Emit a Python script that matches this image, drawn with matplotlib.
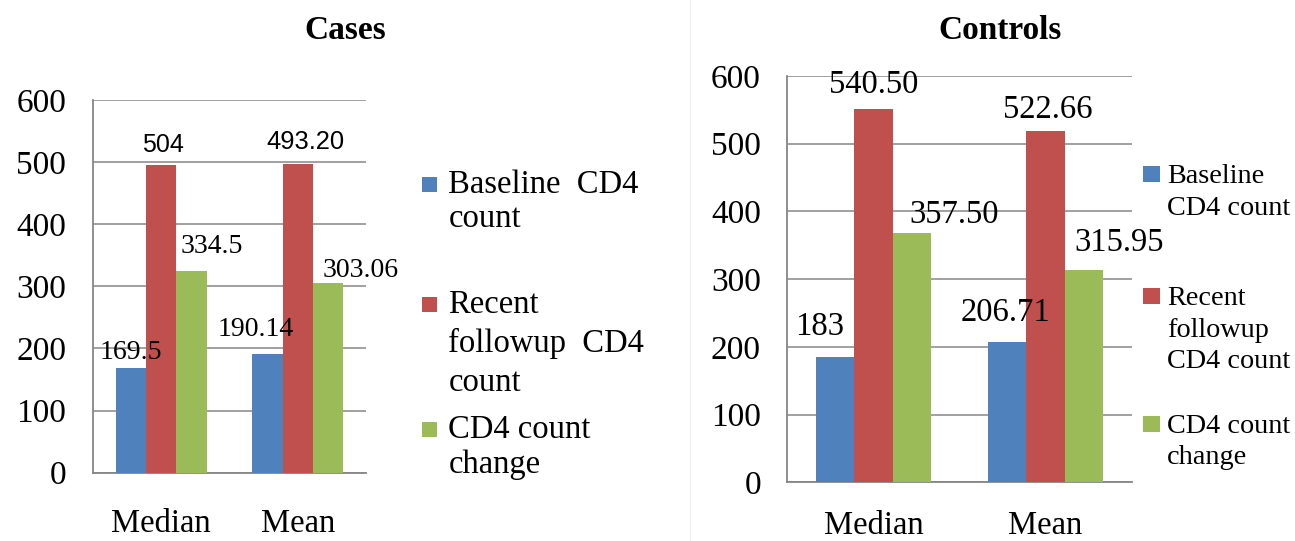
import matplotlib
matplotlib.use("Agg")
import matplotlib.pyplot as plt
from matplotlib.patches import Rectangle
from matplotlib.lines import Line2D
import numpy as np

# ---------------- data ----------------
groups = ["Median", "Mean"]
series_names = ["Baseline CD4 count", "Recent followup CD4 count", "CD4 count change"]

cases_baseline = [169, 190.5]
cases_recent = [495, 497]
cases_change = [325, 306]
cases_label_text = [["169.5", "190.14"], ["504", "493.20"], ["334.5", "303.06"]]

controls_baseline = [185, 207]
controls_recent = [551, 519]
controls_change = [368, 313]
controls_label_text = [["183", "206.71"], ["540.50", "522.66"], ["357.50", "315.95"]]

y_ticks = [0, 100, 200, 300, 400, 500, 600]

# ---------------- style ----------------
colors = ["#4F81BD", "#C0504D", "#9BBB59"]
grid_color = "#868686"
SERIF = "Liberation Serif"
SANS = "Liberation Sans"

W, H = 1295, 541
fig = plt.figure(figsize=(W / 100, H / 100), dpi=100)
fig.patch.set_facecolor("white")


def fx(px):
    return px / W


def fy(py):
    return 1 - py / H


def setup_axes(rect, title, title_x, xpad):
    ax = fig.add_axes(rect)
    ax.set_xlim(-0.5, 1.5)
    ax.set_ylim(0, 600)
    ax.set_yticks(y_ticks)
    ax.set_yticklabels([str(t) for t in y_ticks], fontfamily=SERIF, fontsize=24)
    ax.set_xticks(range(len(groups)))
    ax.set_xticklabels(groups, fontfamily=SERIF, fontsize=23.5)
    ax.tick_params(axis="y", length=0, pad=19)
    ax.tick_params(axis="x", length=0, pad=xpad)
    ax.yaxis.grid(True, color=grid_color, linewidth=1.1)
    ax.set_axisbelow(True)
    for s in ["top", "right"]:
        ax.spines[s].set_visible(False)
    for s in ["left", "bottom"]:
        ax.spines[s].set_color(grid_color)
        ax.spines[s].set_linewidth(1.3)
    fig.text(fx(title_x), fy(39), title, fontfamily=SERIF, fontweight="bold",
             fontsize=24, ha="center", va="baseline")
    return ax


def draw_bars(ax, values, texts, width, offsets, fonts):
    x = np.arange(len(groups))
    for i, vals in enumerate(values):
        pos = x + (i - 1) * width
        bars = ax.bar(pos, vals, width=width, color=colors[i], edgecolor="none", zorder=3)
        for j, b in enumerate(bars):
            dx, dy = offsets[i][j]
            fam, size = fonts[i][j]
            ax.annotate(texts[i][j], xy=(b.get_x() + b.get_width() / 2, b.get_height()),
                        xytext=(dx, dy), textcoords="offset pixels",
                        ha="center", va="baseline", fontfamily=fam, fontsize=size,
                        zorder=5, annotation_clip=False)


# ---------------- Cases ----------------
ax1 = setup_axes([fx(92.7), fy(472.7), fx(366 - 92.7), (472.7 - 100) / H], "Cases", 345, 26)
cases_offsets = [[(0, 9), (-11.5, 18.5)], [(2, 13), (8, 15)], [(20, 18), (33, 5.5)]]
cases_fonts = [[(SERIF, 20), (SERIF, 20)], [(SANS, 18), (SANS, 18.4)], [(SERIF, 20), (SERIF, 20)]]
draw_bars(ax1, [cases_baseline, cases_recent, cases_change], cases_label_text, 0.222,
          cases_offsets, cases_fonts)

# ---------------- Controls ----------------
ax2 = setup_axes([fx(787.3), fy(482.3), fx(1131.7 - 787.3), (482.3 - 76) / H], "Controls", 1000, 20)
ctrl_offsets = [[(-15, 21.6), (-2, 21.6)], [(0, 16), (2.7, 12.7)], [(42.3, 10), (35.3, 19)]]
ctrl_fonts = [[(SERIF, 23.5)] * 2, [(SERIF, 23.5)] * 2, [(SERIF, 23.5)] * 2]
draw_bars(ax2, [controls_baseline, controls_recent, controls_change], controls_label_text, 0.2225,
          ctrl_offsets, ctrl_fonts)

# ---------------- legends ----------------
cases_legend_lines = [["Baseline  CD4", "count"], ["Recent", "followup  CD4", "count"], ["CD4 count", "change"]]
cases_legend_baselines = [[193, 227], [313, 352, 391], [438, 473]]
ctrl_legend_lines = [["Baseline", "CD4 count"], ["Recent", "followup", "CD4 count"], ["CD4 count", "change"]]
ctrl_legend_baselines = [[183.3, 215], [305, 336.7, 368.3], [433, 464]]


def draw_legend(lines, baselines, mx, msize, tx, fsize):
    for i in range(len(series_names)):
        b0 = baselines[i][0]
        fig.add_artist(Rectangle((fx(mx), fy(b0 - 1)), msize / W, msize / H,
                                 transform=fig.transFigure, facecolor=colors[i],
                                 edgecolor="none"))
        for line, b in zip(lines[i], baselines[i]):
            fig.text(fx(tx), fy(b), line, fontfamily=SERIF, fontsize=fsize,
                     ha="left", va="baseline")


draw_legend(cases_legend_lines, cases_legend_baselines, 422, 15, 448.3, 23.5)
draw_legend(ctrl_legend_lines, ctrl_legend_baselines, 1143.3, 16.5, 1167.3, 20.3)

# faint panel divider
fig.add_artist(Line2D([fx(690), fx(690)], [0, 1], transform=fig.transFigure,
                      color="#f0f0f0", linewidth=1))

fig.savefig("out.png", dpi=100, facecolor="white")
